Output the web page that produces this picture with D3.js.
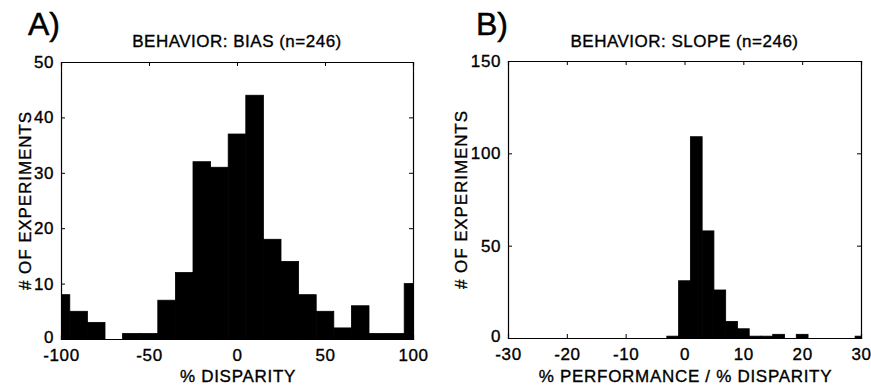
<!DOCTYPE html>
<html>
<head>
<meta charset="utf-8">
<script src="https://cdn.jsdelivr.net/npm/d3@7"></script>
<style>
  html, body { margin: 0; padding: 0; background: #fff; }
  svg { display: block; }
  text { font-family: "Liberation Sans", Arial, Helvetica, sans-serif; fill: #000; stroke: #000; stroke-width: 0.35px; }
</style>
</head>
<body>
<svg id="chart" width="871" height="390"></svg>
<script>
// ---- Data ----
const biasCenters = [-100, -90, -80, -70, -60, -50, -40, -30, -20, -10, 0, 10, 20, 30, 40, 50, 60, 70, 80, 90, 100];
const biasCounts  = [8, 5, 3, 0, 1, 1, 7, 12, 32, 31, 37, 44, 18, 14, 8, 5, 2, 6, 1, 1, 10];
const biasXTicks = [-100, -50, 0, 50, 100];
const biasYTicks = [0, 10, 20, 30, 40, 50];

const slopeCenters = [-30, -28, -26, -24, -22, -20, -18, -16, -14, -12, -10, -8, -6, -4, -2, 0, 2, 4, 6, 8, 10, 12, 14, 16, 18, 20, 22, 24, 26, 28, 30];
const slopeCounts  = [0, 0, 0, 0, 0, 0, 0, 0, 0, 0, 0, 0, 0, 0, 1, 31, 109, 58, 26, 9, 5, 1, 1, 2, 0, 2, 0, 0, 0, 0, 1];
const slopeXTicks = [-30, -20, -10, 0, 10, 20, 30];
const slopeYTicks = [0, 50, 100, 150];

const panels = [
  {
    id: "a", letter: "A)", title: "BEHAVIOR: BIAS (n=246)", xlabel: "% DISPARITY", ylabel: "# OF EXPERIMENTS",
    centers: biasCenters, counts: biasCounts, binWidth: 10,
    xDomain: [-100, 100], yDomain: [0, 50], xTicks: biasXTicks, yTicks: biasYTicks,
    left: 61, right: 413, top: 62, bottom: 339, letterX: 28, ylabelX: 31
  },
  {
    id: "b", letter: "B)", title: "BEHAVIOR: SLOPE (n=246)", xlabel: "% PERFORMANCE / % DISPARITY", ylabel: "# OF EXPERIMENTS",
    centers: slopeCenters, counts: slopeCounts, binWidth: 2,
    xDomain: [-30, 30], yDomain: [0, 150], xTicks: slopeXTicks, yTicks: slopeYTicks,
    left: 508, right: 861, top: 61, bottom: 338, letterX: 476, ylabelX: 467
  }
];

const svg = d3.select("#chart");
const defs = svg.append("defs");
const fs = 17;
const fmt = d => String(d); // plain hyphen minus, as in the reference

panels.forEach(p => {
  const x = d3.scaleLinear().domain(p.xDomain).range([p.left, p.right]);
  const y = d3.scaleLinear().domain(p.yDomain).range([p.bottom, p.top]);
  const g = svg.append("g");

  defs.append("clipPath").attr("id", "clip-" + p.id)
    .append("rect")
    .attr("x", p.left).attr("y", p.top)
    .attr("width", p.right - p.left).attr("height", p.bottom - p.top);

  // bars
  const data = p.centers.map((c, i) => ({ c, v: p.counts[i] }));
  g.append("g").attr("clip-path", "url(#clip-" + p.id + ")")
    .selectAll("rect").data(data).join("rect")
    .attr("x", d => x(d.c - p.binWidth / 2))
    .attr("width", d => x(d.c + p.binWidth / 2) - x(d.c - p.binWidth / 2))
    .attr("y", d => y(d.v))
    .attr("height", d => Math.max(0, y(0) - y(d.v)))
    .attr("fill", "#000")
    .attr("stroke", "#000")
    .attr("stroke-width", 0.8);

  // axes with inward ticks
  const axB = d3.axisBottom(x).tickValues(p.xTicks).tickSize(-4).tickPadding(9).tickFormat(fmt);
  const axT = d3.axisTop(x).tickValues(p.xTicks).tickSize(-4).tickFormat("");
  const axL = d3.axisLeft(y).tickValues(p.yTicks).tickSize(-4).tickPadding(7).tickFormat(fmt);
  const axR = d3.axisRight(y).tickValues(p.yTicks).tickSize(-4).tickFormat("");

  const gb = g.append("g").attr("transform", `translate(0,${p.bottom})`).call(axB);
  const gt = g.append("g").attr("transform", `translate(0,${p.top})`).call(axT);
  const gl = g.append("g").attr("transform", `translate(${p.left},0)`).call(axL);
  const gr = g.append("g").attr("transform", `translate(${p.right},0)`).call(axR);

  [gb, gt, gl, gr].forEach(a => {
    a.select(".domain").attr("stroke", "#000").attr("stroke-width", 1.2);
    a.selectAll(".tick line").attr("stroke", "#000").attr("stroke-width", 1);
    a.selectAll(".tick text")
      .attr("fill", "#000")
      .style("font-size", fs + "px")
      .style("font-family", '"Liberation Sans", Arial, sans-serif')
      .style("letter-spacing", "0.6px");
  });
  gb.selectAll(".tick text").attr("dy", "0.71em").attr("y", 10);
  // lift the y "0" label a touch so it clears the first x label
  gl.selectAll(".tick text").filter(d => d === 0).attr("y", -2);

  // panel letter
  svg.append("text").attr("x", p.letterX).attr("y", 35)
    .style("font-size", "32px").style("stroke-width", "0.5px").text(p.letter);

  // title
  svg.append("text").attr("x", (p.left + p.right) / 2).attr("y", 47)
    .attr("text-anchor", "middle")
    .style("font-size", fs + "px").style("letter-spacing", "0.5px")
    .text(p.title);

  // x label
  svg.append("text").attr("x", (p.left + p.right) / 2 + 1).attr("y", 382)
    .attr("text-anchor", "middle")
    .style("font-size", fs + "px").style("letter-spacing", "0.7px")
    .text(p.xlabel);

  // y label
  svg.append("text")
    .attr("transform", `translate(${p.ylabelX},${(p.top + p.bottom) / 2}) rotate(-90)`)
    .attr("text-anchor", "middle")
    .style("font-size", fs + "px").style("letter-spacing", "0.9px")
    .text(p.ylabel);
});
</script>
</body>
</html>
